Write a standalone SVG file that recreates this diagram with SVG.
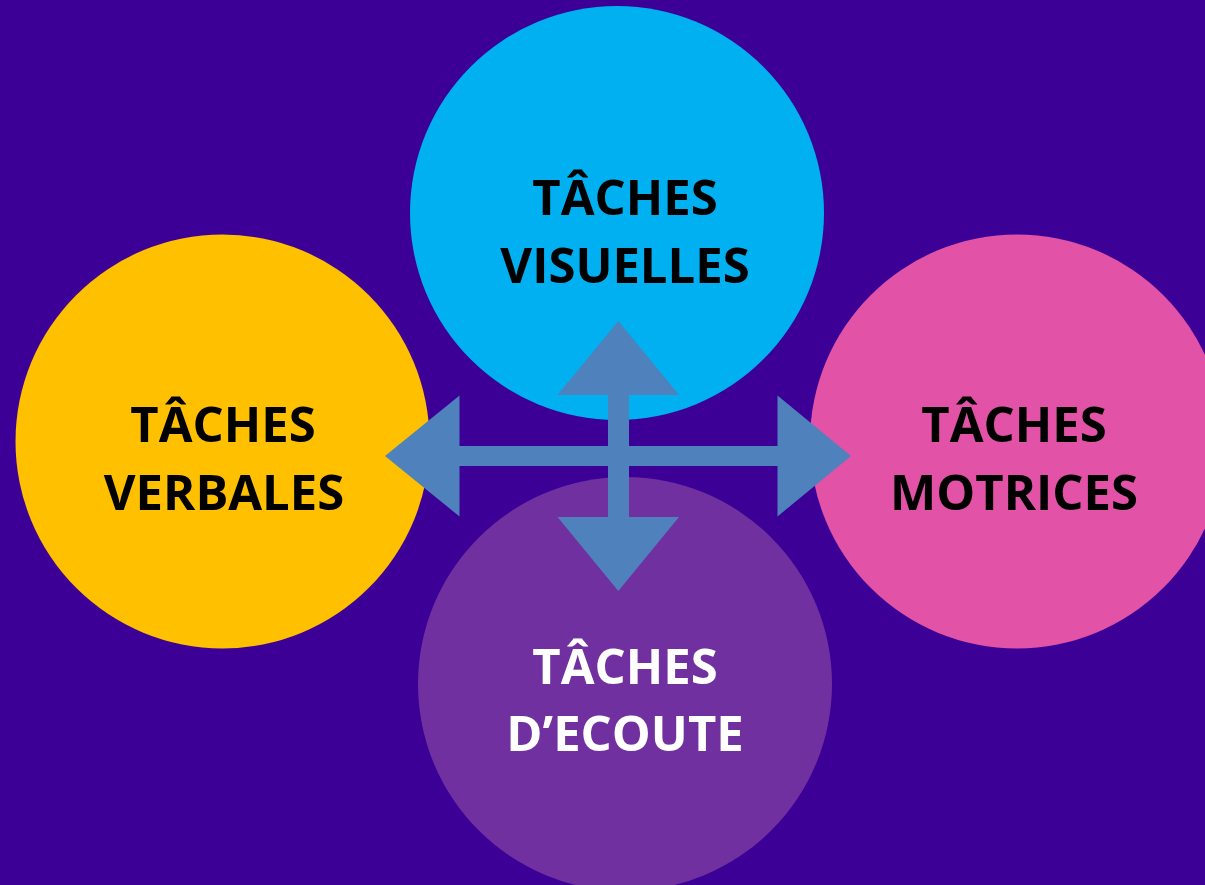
<svg xmlns="http://www.w3.org/2000/svg" width="1205" height="885" viewBox="0 0 1205 885">
<style>
.lbl{font-family:"Open Sans","Liberation Sans",sans-serif;font-weight:bold;font-size:49px;text-anchor:middle}
.dark{fill:#000}
.light{fill:#fff}
</style>
<rect x="0" y="0" width="1205" height="885" fill="#3C0096"/>
<g id="node-visuelles">
<circle cx="617" cy="213" r="207" fill="#00B0F0"/>
<text class="lbl dark" x="625" y="215">TÂCHES</text>
<text class="lbl dark" x="625" y="283">VISUELLES</text>
</g>
<g id="node-verbales">
<circle cx="222.5" cy="441.5" r="207" fill="#FFC000"/>
<text class="lbl dark" x="223" y="442">TÂCHES</text>
<text class="lbl dark" x="224" y="510">VERBALES</text>
</g>
<g id="node-motrices">
<circle cx="1017" cy="441.5" r="207" fill="#E252A6"/>
<text class="lbl dark" x="1014" y="442">TÂCHES</text>
<text class="lbl dark" x="1014" y="510">MOTRICES</text>
</g>
<g id="node-ecoute">
<circle cx="625" cy="684" r="207" fill="#7030A0"/>
<text class="lbl light" x="625" y="684">TÂCHES</text>
<text class="lbl light" x="625" y="751">D’ECOUTE</text>
</g>
<g id="connectors">
<path d="M385,456 L459.5,395.5 L459.5,446 L608,446 L608,395 L557.5,395 L618.3,321 L679,395 L629,395 L629,446 L777.5,446 L777.5,395.5 L851,456 L777.5,516.5 L777.5,466 L629,466 L629,517 L679,517 L618.3,591 L557.5,517 L608,517 L608,466 L459.5,466 L459.5,516.5 Z" fill="#4F81BD"/>
</g>
</svg>
